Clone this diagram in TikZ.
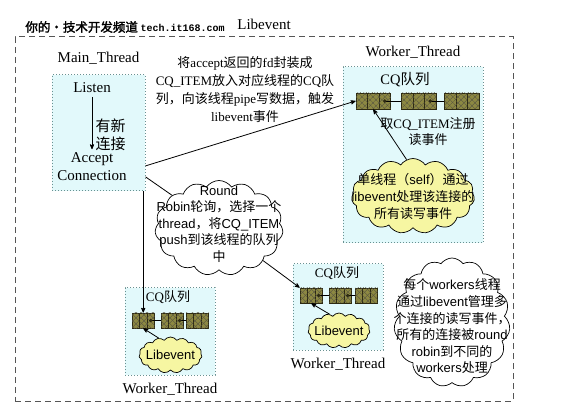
\documentclass[tikz,border=0pt]{standalone}
\usepackage{fontspec}
\setmainfont{Liberation Serif}
\newfontfamily\sansfont{Liberation Sans}
\newfontfamily\monob{Liberation Mono}
\newfontfamily\cjk{Noto Sans CJK SC}
\newfontfamily\cjkb[FakeBold=2]{Noto Sans CJK SC}
\newcommand{\zh}[1]{{\cjk #1}}
\usetikzlibrary{arrows, positioning, shapes.symbols, patterns.meta}

\definecolor{boxfill}{RGB}{226,249,251}
\definecolor{boxline}{RGB}{105,145,145}
\definecolor{cloudfill}{RGB}{246,246,162}
\definecolor{qfill}{RGB}{140,136,66}
\definecolor{qline}{RGB}{45,42,18}
\definecolor{frameline}{RGB}{85,85,85}

\begin{document}
\begin{tikzpicture}[x=1pt,y=-1pt,>=stealth',line width=0.8pt,
    every node/.style={font=\fontsize{15}{18}\selectfont},
    outer/.style={draw=frameline, line width=1pt, dash pattern=on 6pt off 4pt},
    thread/.style={draw=boxline, dotted, line width=1pt, fill=boxfill, inner sep=0pt},
    cell/.style={draw=qline, line width=0.7pt, fill=qfill, inner sep=0pt,
        postaction={pattern={Lines[angle=45, distance=4pt, line width=0.5pt]}, pattern color=qline!80},
        postaction={pattern={Lines[angle=-45, distance=4pt, line width=0.5pt]}, pattern color=qline!80}},
    bubble/.style={cloud, cloud puffs=15, cloud puff arc=110, draw=black,
        line width=0.7pt, inner sep=0pt},
    small/.style={font=\fontsize{13}{18}\selectfont, align=center},
    bubbletext/.style={font=\sansfont\fontsize{13}{16.5}\selectfont, align=center, inner sep=0pt}]
    \useasboundingbox (0,0) rectangle (568,414);

    % Frame and title
    \node[outer, minimum width=498, minimum height=364] (frame) at (264,219) {};
    \node (libevent) at (264,24) {Libevent};
    \node[anchor=west, inner sep=0pt] (logo) at (25,27)
        {\cjkb\fontsize{12.5}{14}\selectfont 你的•技术开发频道\ {\monob\bfseries\fontsize{10}{12}\selectfont tech.it168.com}};

    % Main thread
    \node[thread, minimum width=93, minimum height=116] (mainbox) at (98.5,133) {};
    \node[above=10pt of mainbox, inner sep=0pt] (mainlabel) {Main\_Thread};
    \node (listen) at (92,88) {Listen};
    \node[align=center] (accept) at (92,167) {Accept\\Connection};
    \draw[->] (listen) -- node[right, pos=0.72, align=center] (newconn) {\zh{有新}\\\zh{连接}} (accept);

    \node[small] (handoff) at (245,90)
        {\zh{将}accept\zh{返回的}fd\zh{封装成}\\CQ\_ITEM\zh{放入对应线程的}CQ\zh{队}\\\zh{列，向该线程}pipe\zh{写数据，触发}\\libevent\zh{事件}};

    % Worker thread boxes
    \node[thread, minimum width=140, minimum height=176] (trbox) at (413,155) {};
    \node[above=8pt of trbox, inner sep=0pt] (trlabel) {Worker\_Thread};
    \node[font=\fontsize{14.5}{16}\selectfont] (trcq) at (405,80) {CQ\zh{队列}};

    \node[thread, minimum width=90, minimum height=86] (bmbox) at (338,307) {};
    \node[below=7pt of bmbox, inner sep=0pt] (bmlabel) {Worker\_Thread};
    \node[font=\fontsize{13}{15}\selectfont] (bmcq) at (337,273) {CQ\zh{队列}};

    \node[thread, minimum width=90, minimum height=87] (blbox) at (170,331.5) {};
    \node[below=7pt of blbox, inner sep=0pt] (bllabel) {Worker\_Thread};
    \node[font=\fontsize{13}{15}\selectfont] (blcq) at (168,297) {CQ\zh{队列}};

    % CQ queues
    \foreach \q/\y/\w/\h/\xa/\xb/\xc in {tq/101/11.5/16/356/401.5/444.5,
            bq/295.5/7.5/15/300/329/355, lq/320.5/7.5/15/132/161/186} {
        \foreach \bx [count=\i] in {\xa,\xb,\xc}
            \foreach \c in {0,1,2}
                \node[cell, minimum width=\w, minimum height=\h] (\q\i\c) at (\bx+\w/2+\c*\w, \y) {};
        \foreach \i/\j in {1/2,2/3} {
            \draw[line width=0.6pt] (\q\i2.center) -- (\q\j0.west);
            \fill[qline] (\q\i2) circle (1.8pt);
        }
    }

    \node[small, font=\fontsize{13}{16}\selectfont] (fetch) at (428,132) {\zh{取}CQ\_ITEM\zh{注册}\\\zh{读事件}};

    % Clouds
    \node[bubble, fill=cloudfill, minimum width=123, minimum height=75] (trcloud) at (413,196) {};
    \node[bubbletext, font=\sansfont\fontsize{13}{17}\selectfont] (trtext) at (trcloud)
        {\zh{单线程（}self\zh{）通过}\\libevent\zh{处理该连接的}\\\zh{所有读写事件}};

    \node[bubble, fill=white, minimum width=128, minimum height=95] (rrcloud) at (219,228) {};
    \node[bubbletext] (rrtext) at (219,224)
        {Round\\Robin\zh{轮询，选择一个}\\thread\zh{，将}CQ\_ITEM\\push\zh{到该线程的队列}\\\zh{中}};

    \node[bubble, fill=cloudfill, minimum width=62, minimum height=35] (bmcloud) at (339,330.5) {};
    \node[bubbletext] (bmtext) at (bmcloud) {Libevent};

    \node[bubble, fill=cloudfill, minimum width=63, minimum height=36] (blcloud) at (170.5,355) {};
    \node[bubbletext] (bltext) at (blcloud) {Libevent};

    \node[bubble, fill=white, minimum width=116, minimum height=129] (wkcloud) at (452,322.5) {};
    \node[bubbletext, font=\sansfont\fontsize{13}{16.6}\selectfont] (wktext) at (452,326.5)
        {\zh{每个}workers\zh{线程}\\\zh{通过}libevent\zh{管理多}\\\zh{个连接的读写事件，}\\\zh{所有的连接被}round\\robin\zh{到不同的}\\workers\zh{处理}};

    % Connections
    \draw[->] (mainbox.-35) -- (tq10.west);
    \draw (mainbox.-43) -- (rrcloud);
    \draw[->] (mainbox.south -| lq11) -- (lq11.north);
    \draw[->] (rrcloud) -- (bq10.north west);
    \draw[->] (trcloud.100) -- (tq11.south);
    \draw[->] (bmcloud.120) -- (bq11.south);
    \draw[->] (blcloud.125) -- (lq11.south);

\end{tikzpicture}
\end{document}
